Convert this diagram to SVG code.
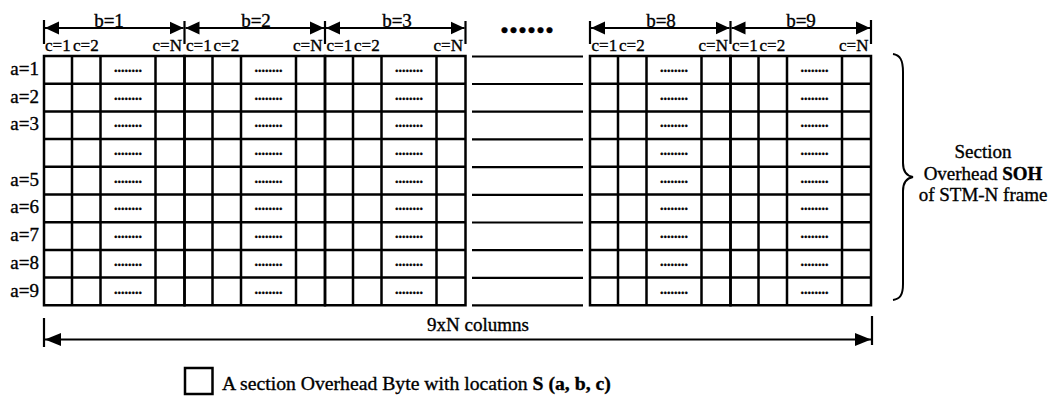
<svg xmlns="http://www.w3.org/2000/svg" width="1052" height="396" viewBox="0 0 1052 396">
<style>
text{font-family:"Liberation Serif","Times New Roman",serif;fill:#000;stroke:#000;stroke-width:0.35}
.lbl{font-size:19px}
.c{font-size:17px}
.dots{font-size:14px;font-weight:bold;text-anchor:middle}
.grid{fill:none;stroke:#000;stroke-width:2.5;stroke-linecap:square}
.gap{fill:none;stroke:#000;stroke-width:2.2}
.dim{fill:none;stroke:#000;stroke-width:2.2}
.tick{fill:none;stroke:#000;stroke-width:2.2}
.mid{text-anchor:middle}
.end{text-anchor:end}
</style>
<defs>
<marker id="ah" viewBox="0 0 14 14" refX="14" refY="7" markerWidth="14" markerHeight="14" markerUnits="userSpaceOnUse" orient="auto-start-reverse">
<path d="M0,0.5 L14,7 L0,13.5 Z" fill="#000"/>
</marker>
<marker id="ahb" viewBox="0 0 16 14" refX="16" refY="7" markerWidth="16" markerHeight="14" markerUnits="userSpaceOnUse" orient="auto-start-reverse">
<path d="M0,0.5 L16,7 L0,13.5 Z" fill="#000"/>
</marker>
<path id="blockgrid" class="grid" d="M0,0V249.3M28,0V249.3M56.5,0V249.3M111.5,0V249.3M140.5,0V249.3M0,0H140.5M0,27.7H140.5M0,55.4H140.5M0,83.1H140.5M0,110.8H140.5M0,138.5H140.5M0,166.2H140.5M0,193.9H140.5M0,221.6H140.5M0,249.3H140.5"/>
</defs>
<rect width="1052" height="396" fill="#fff"/>

<g id="row-labels" class="lbl">
<text class="end" x="39" y="74.9">a=1</text>
<text class="end" x="39" y="102.6">a=2</text>
<text class="end" x="39" y="130.3">a=3</text>
<text class="end" x="39" y="185.7">a=5</text>
<text class="end" x="39" y="213.4">a=6</text>
<text class="end" x="39" y="241.1">a=7</text>
<text class="end" x="39" y="268.8">a=8</text>
<text class="end" x="39" y="296.5">a=9</text>
</g>

<g id="block-b1">
<use href="#blockgrid" x="44" y="56"/>
<text class="lbl mid" x="109" y="26.5">b=1</text>
<text class="c" x="45" y="51">c=1</text>
<text class="c" x="73" y="51">c=2</text>
<text class="c end" x="182" y="51">c=N</text>
<g class="dots">
<text x="128" y="71.9">........</text><text x="128" y="99.6">........</text><text x="128" y="127.3">........</text>
<text x="128" y="155">........</text><text x="128" y="182.7">........</text><text x="128" y="210.4">........</text>
<text x="128" y="238.1">........</text><text x="128" y="265.8">........</text><text x="128" y="293.5">........</text>
</g>
</g>

<g id="block-b2">
<use href="#blockgrid" x="184.5" y="56"/>
<text class="lbl mid" x="256" y="26.5">b=2</text>
<text class="c" x="186" y="51">c=1</text>
<text class="c" x="213.5" y="51">c=2</text>
<text class="c end" x="322.5" y="51">c=N</text>
<g class="dots">
<text x="268.5" y="71.9">........</text><text x="268.5" y="99.6">........</text><text x="268.5" y="127.3">........</text>
<text x="268.5" y="155">........</text><text x="268.5" y="182.7">........</text><text x="268.5" y="210.4">........</text>
<text x="268.5" y="238.1">........</text><text x="268.5" y="265.8">........</text><text x="268.5" y="293.5">........</text>
</g>
</g>

<g id="block-b3">
<use href="#blockgrid" x="325" y="56"/>
<text class="lbl mid" x="397" y="26.5">b=3</text>
<text class="c" x="326.5" y="51">c=1</text>
<text class="c" x="354" y="51">c=2</text>
<text class="c end" x="463" y="51">c=N</text>
<g class="dots">
<text x="409" y="71.9">........</text><text x="409" y="99.6">........</text><text x="409" y="127.3">........</text>
<text x="409" y="155">........</text><text x="409" y="182.7">........</text><text x="409" y="210.4">........</text>
<text x="409" y="238.1">........</text><text x="409" y="265.8">........</text><text x="409" y="293.5">........</text>
</g>
</g>

<g id="gap">
<path class="gap" d="M472,56.5H583M472,84H583M472,111.7H583M472,139.4H583M472,167.1H583M472,194.8H583M472,222.5H583M472,250.2H583M472,277.9H583M472,305.3H583"/>
<text x="527" y="33" style="font-size:36px;font-weight:bold;text-anchor:middle">......</text>
</g>

<g id="block-b8">
<use href="#blockgrid" x="590" y="56"/>
<text class="lbl mid" x="661" y="26.5">b=8</text>
<text class="c" x="591.5" y="51">c=1</text>
<text class="c" x="619" y="51">c=2</text>
<text class="c end" x="728" y="51">c=N</text>
<g class="dots">
<text x="674" y="71.9">........</text><text x="674" y="99.6">........</text><text x="674" y="127.3">........</text>
<text x="674" y="155">........</text><text x="674" y="182.7">........</text><text x="674" y="210.4">........</text>
<text x="674" y="238.1">........</text><text x="674" y="265.8">........</text><text x="674" y="293.5">........</text>
</g>
</g>

<g id="block-b9">
<use href="#blockgrid" x="730.5" y="56"/>
<text class="lbl mid" x="801" y="26.5">b=9</text>
<text class="c" x="732" y="51">c=1</text>
<text class="c" x="759.5" y="51">c=2</text>
<text class="c end" x="868.5" y="51">c=N</text>
<g class="dots">
<text x="814.5" y="71.9">........</text><text x="814.5" y="99.6">........</text><text x="814.5" y="127.3">........</text>
<text x="814.5" y="155">........</text><text x="814.5" y="182.7">........</text><text x="814.5" y="210.4">........</text>
<text x="814.5" y="238.1">........</text><text x="814.5" y="265.8">........</text><text x="814.5" y="293.5">........</text>
</g>
</g>

<g id="connectors">
<path class="tick" d="M44,20V44M184.5,21V44M325,21V44M465.5,21V44M590,21V44M730.5,21V44M871,20V44"/>
<line class="dim" x1="45" y1="28" x2="183.5" y2="28" marker-start="url(#ah)" marker-end="url(#ah)"/>
<line class="dim" x1="185.5" y1="28" x2="324" y2="28" marker-start="url(#ah)" marker-end="url(#ah)"/>
<line class="dim" x1="326" y1="28" x2="464.5" y2="28" marker-start="url(#ah)" marker-end="url(#ah)"/>
<line class="dim" x1="591" y1="28" x2="729.5" y2="28" marker-start="url(#ah)" marker-end="url(#ah)"/>
<line class="dim" x1="731.5" y1="28" x2="870" y2="28" marker-start="url(#ah)" marker-end="url(#ah)"/>
<path class="tick" d="M44,318V347M872,316V345"/>
<line class="dim" x1="45" y1="339.5" x2="871" y2="339.5" marker-start="url(#ahb)" marker-end="url(#ahb)"/>
<path d="M893,54 C900,55 903,60 903,72 L903,163 C903,172 907,176 913,177 C907,178 903,182 903,191 L903,284 C903,295 900,299 893,300" fill="none" stroke="#000" stroke-width="2"/>
</g>

<g id="dim-label">
<text class="lbl mid" x="478" y="331">9xN columns</text>
</g>

<g id="soh-label" class="lbl mid">
<text x="983" y="158">Section</text>
<text x="983" y="180">Overhead <tspan font-weight="bold">SOH</tspan></text>
<text x="983" y="201">of STM-N frame</text>
</g>

<g id="legend">
<rect x="185" y="368" width="27.5" height="26" fill="none" stroke="#000" stroke-width="2.5"/>
<text x="222" y="390" style="font-size:19.7px">A section Overhead Byte with location <tspan font-weight="bold">S (a, b, c)</tspan></text>
</g>
</svg>
